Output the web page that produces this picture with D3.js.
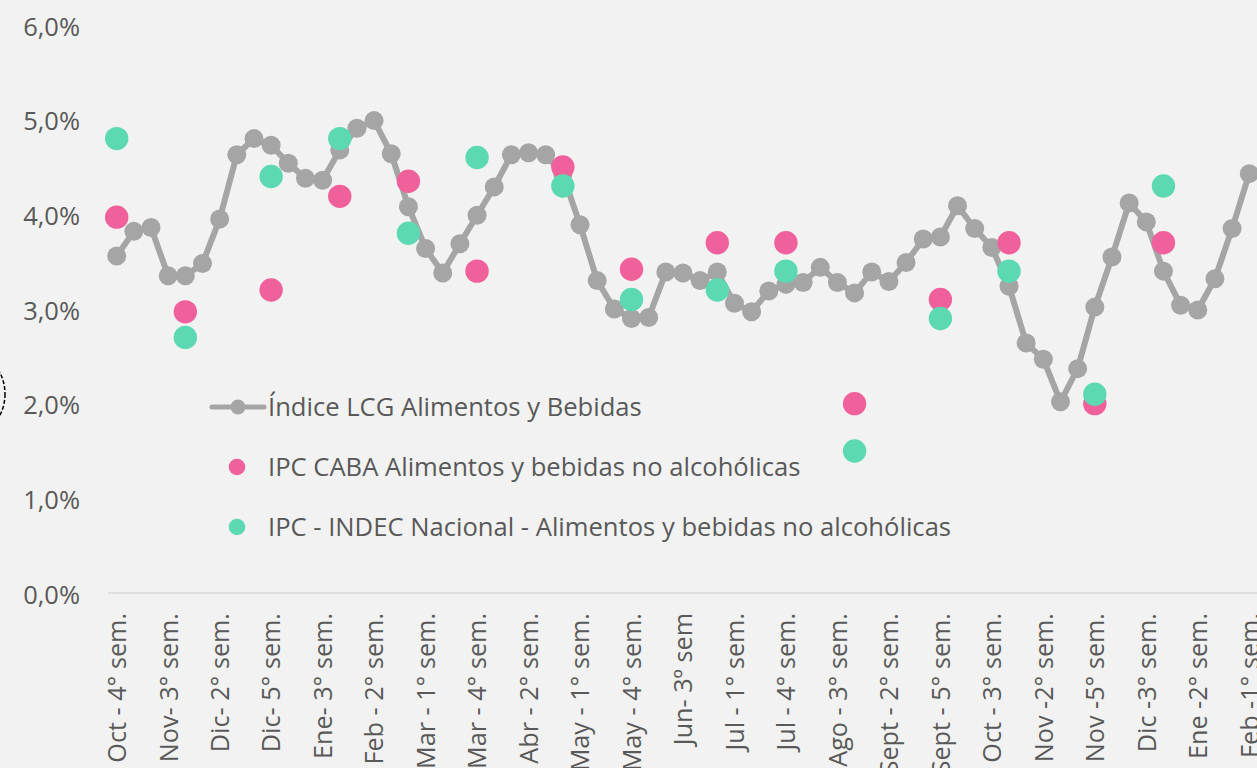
<!DOCTYPE html>
<html>
<head>
<meta charset="utf-8">
<script src="https://cdn.jsdelivr.net/npm/d3@7"></script>
<style>
  html, body { margin: 0; padding: 0; background: #F2F2F2; overflow: hidden; }
  svg { display: block; }
  text { font-family: "Open Sans", Lato, sans-serif; fill: #595959; }
</style>
</head>
<body>
<svg id="chart" width="1257" height="768"></svg>
<script>
// ---------- DATA ----------
const categories = [
  "Oct - 4° sem.", "Nov- 1° sem.", "Nov- 2° sem.", "Nov- 3° sem.", "Nov- 4° sem.",
  "Dic- 1° sem.", "Dic- 2° sem.", "Dic- 3° sem.", "Dic- 4° sem.", "Dic- 5° sem.",
  "Ene- 1° sem.", "Ene- 2° sem.", "Ene- 3° sem.", "Ene- 4° sem.", "Feb - 1° sem.",
  "Feb - 2° sem.", "Feb - 3° sem.", "Feb - 4° sem.", "Mar - 1° sem.", "Mar - 2° sem.",
  "Mar - 3° sem.", "Mar - 4° sem.", "Mar - 5° sem.", "Abr - 1° sem.", "Abr - 2° sem.",
  "Abr - 3° sem.", "Abr - 4° sem.", "May - 1° sem.", "May - 2° sem.", "May - 3° sem.",
  "May - 4° sem.", "Jun- 1º sem", "Jun- 2º sem", "Jun- 3º sem", "Jun- 4º sem",
  "Jun- 5º sem", "Jul - 1° sem.", "Jul - 2° sem.", "Jul - 3° sem.", "Jul - 4° sem.",
  "Ago - 1° sem.", "Ago - 2° sem.", "Ago - 3° sem.", "Ago - 4° sem.", "Sept - 1° sem.",
  "Sept - 2° sem.", "Sept - 3° sem.", "Sept - 4° sem.", "Sept - 5° sem.", "Oct - 1° sem.",
  "Oct - 2° sem.", "Oct - 3° sem.", "Oct - 4° sem. ", "Nov -1° sem.", "Nov -2° sem.",
  "Nov -3° sem.", "Nov -4° sem.", "Nov -5° sem.", "Dic -1° sem.", "Dic -2° sem.",
  "Dic -3° sem.", "Dic -4° sem.", "Ene -1° sem.", "Ene -2° sem.", "Ene -3° sem.",
  "Ene -4° sem.", "Feb -1° sem."
];

// Índice LCG Alimentos y Bebidas (weekly, %)
const lcgValues = [
  3.56, 3.82, 3.86, 3.35, 3.35, 3.48, 3.95, 4.63, 4.80, 4.73,
  4.54, 4.38, 4.36, 4.68, 4.91, 4.99, 4.64, 4.08, 3.64, 3.38,
  3.69, 3.99, 4.29, 4.63, 4.65, 4.63, 4.42, 3.89, 3.30, 3.00,
  2.90, 2.91, 3.39, 3.38, 3.30, 3.39, 3.06, 2.97, 3.19, 3.26,
  3.28, 3.44, 3.28, 3.17, 3.39, 3.29, 3.49, 3.74, 3.76, 4.09,
  3.85, 3.65, 3.24, 2.64, 2.47, 2.02, 2.37, 3.02, 3.55, 4.12,
  3.92, 3.40, 3.04, 2.99, 3.32, 3.85, 4.43
];

// Monthly IPC readings, placed at the week index where they appear
const ipcIndex  = [0, 4, 9, 13, 17, 21, 26, 30, 35, 39, 43, 48, 52, 57, 61];
const cabaValues  = [3.97, 2.97, 3.20, 4.19, 4.35, 3.40, 4.50, 3.42, 3.70, 3.70, 2.00, 3.10, 3.70, 2.00, 3.70];
const indecValues = [4.80, 2.70, 4.40, 4.80, 3.80, 4.60, 4.30, 3.10, 3.20, 3.40, 1.50, 2.90, 3.40, 2.10, 4.30];

const yTicks = [0, 1, 2, 3, 4, 5, 6];
const tickLabelCategories = categories.filter((c, i) => i % 3 === 0);

const seriesNames = [
  "Índice LCG Alimentos y Bebidas",
  "IPC CABA Alimentos y bebidas no alcohólicas",
  "IPC - INDEC Nacional - Alimentos y bebidas no alcohólicas"
];

// ---------- STYLE ----------
const GREY = "#A5A5A5", PINK = "#F0609A", TEAL = "#5CD9B3";
const TEXT = "#595959";
const FONT = "'Open Sans', Lato, sans-serif";

// ---------- CHART ----------
const svg = d3.select("#chart");

const x = d3.scalePoint()
  .domain(categories)
  .range([116.7, 116.7 + 17.16 * (categories.length - 1)]);
const step = x.step();

const y = d3.scaleLinear().domain([0, 6]).range([593, 25]);

// Y axis labels
const yAxis = d3.axisLeft(y)
  .tickValues(yTicks)
  .tickSize(0)
  .tickPadding(0)
  .tickFormat(d => d3.format(".1f")(d).replace(".", ",") + "%");
const yG = svg.append("g").attr("transform", "translate(80,2)").call(yAxis);
yG.select(".domain").remove();
yG.selectAll("text").style("font-size", "25.5px").style("fill", TEXT)
  .style("font-family", FONT);

// X axis baseline
svg.append("line")
  .attr("x1", x(categories[0]) - step / 2)
  .attr("x2", x(categories[categories.length - 1]) + step / 2)
  .attr("y1", y(0)).attr("y2", y(0))
  .attr("stroke", "#D9D9D9").attr("stroke-width", 1.5);

// X axis labels
const xAxis = d3.axisBottom(x)
  .tickValues(tickLabelCategories)
  .tickSize(0)
  .tickPadding(0);
const xG = svg.append("g").attr("transform", `translate(0,${y(0)})`).call(xAxis);
xG.select(".domain").remove();
xG.selectAll("text")
  .style("font-size", "25.2px").style("fill", TEXT)
  .style("font-family", FONT)
  .attr("text-anchor", "end")
  .attr("dy", "0.35em")
  .attr("y", 0)
  .attr("transform", "translate(0,20) rotate(-90)");

// Grey line
const line = d3.line()
  .x((d, i) => x(categories[i]))
  .y(d => y(d));
svg.append("path")
  .datum(lcgValues)
  .attr("d", line)
  .attr("fill", "none")
  .attr("stroke", GREY)
  .attr("stroke-width", 6)
  .attr("stroke-linejoin", "round");
svg.append("g").selectAll("circle")
  .data(lcgValues)
  .join("circle")
  .attr("cx", (d, i) => x(categories[i]))
  .attr("cy", d => y(d))
  .attr("r", 9.5)
  .attr("fill", GREY);

// Pink points
svg.append("g").selectAll("circle")
  .data(cabaValues)
  .join("circle")
  .attr("cx", (d, i) => x(categories[ipcIndex[i]]))
  .attr("cy", d => y(d))
  .attr("r", 11.7)
  .attr("fill", PINK);

// Teal points
svg.append("g").selectAll("circle")
  .data(indecValues)
  .join("circle")
  .attr("cx", (d, i) => x(categories[ipcIndex[i]]))
  .attr("cy", d => y(d))
  .attr("r", 11.7)
  .attr("fill", TEAL);

// Legend
const legend = svg.append("g");
const legY = [407, 467, 527];
legend.append("line")
  .attr("x1", 212).attr("x2", 264).attr("y1", legY[0]).attr("y2", legY[0])
  .attr("stroke", GREY).attr("stroke-width", 5).attr("stroke-linecap", "round");
legend.append("circle").attr("cx", 238).attr("cy", legY[0]).attr("r", 7.5).attr("fill", GREY);
legend.append("circle").attr("cx", 237).attr("cy", legY[1]).attr("r", 8.3).attr("fill", PINK);
legend.append("circle").attr("cx", 237).attr("cy", legY[2]).attr("r", 8.3).attr("fill", TEAL);
legend.selectAll("text")
  .data(seriesNames)
  .join("text")
  .attr("x", 268)
  .attr("y", (d, i) => legY[i])
  .attr("dy", "0.35em")
  .style("font-size", "25.6px")
  .style("font-family", FONT)
  .style("fill", TEXT)
  .text(d => d);

// Cropped dashed annotation outline at the left edge
svg.append("ellipse")
  .attr("cx", -32).attr("cy", 394).attr("rx", 37).attr("ry", 42)
  .attr("fill", "none").attr("stroke", "#000").attr("stroke-width", 1.5)
  .attr("stroke-dasharray", "4,2");
</script>
</body>
</html>
